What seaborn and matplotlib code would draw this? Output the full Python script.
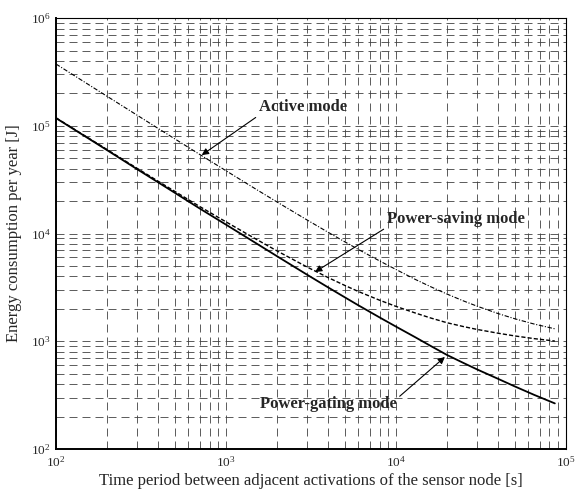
import numpy as np
import pandas as pd
import matplotlib
matplotlib.use("Agg")
import matplotlib.pyplot as plt
import seaborn as sns

# values (log-log axes)
period = [100, 150, 200, 300, 400, 500, 700, 1000, 1500, 2000, 3000, 4000,
          5000, 6000, 8000, 10000, 13000, 16000, 20000, 25000, 30000, 40000,
          50000, 65000, 86000]
active = [374900, 250200, 187900, 125600, 94400, 75700, 54300, 38300, 25830,
          19600, 13370, 10250, 8380, 7130, 5575, 4640, 3750, 3210, 2740, 2366,
          2117, 1805, 1618, 1445, 1305]
saving = [118740, 79740, 60140, 40340, 30540, 24640, 17840, 12840, 8890,
          6890, 4890, 3895, 3300, 2900, 2407, 2108, 1829, 1645, 1485, 1368,
          1288, 1187, 1121, 1058, 1005]
gating = [118000, 79000, 59400, 39600, 29800, 23900, 17100, 12100, 8150,
          6150, 4150, 3155, 2560, 2160, 1667, 1368, 1089, 905, 745, 628,
          548, 447, 381, 318, 265]

sns.set_style("white")
plt.rcParams['font.family'] = ['Liberation Serif', 'DejaVu Serif']
plt.rcParams['mathtext.fontset'] = 'custom'
plt.rcParams['mathtext.rm'] = 'Liberation Serif'
plt.rcParams['mathtext.it'] = 'Liberation Serif:italic'
plt.rcParams['mathtext.bf'] = 'Liberation Serif:bold'

df = pd.DataFrame({"period": period, "active": active,
                   "saving": saving, "gating": gating})

fig = plt.figure(figsize=(5.79, 4.90), dpi=100)
ax = fig.add_axes([0.0967, 0.0837, 0.8808, 0.8793])

sns.lineplot(data=df, x="period", y="active", ax=ax, color="k", lw=0.8,
             linestyle=(0, (4, 1.5, 1, 1.5)))
sns.lineplot(data=df, x="period", y="saving", ax=ax, color="k", lw=1.0,
             linestyle=(0, (3, 1.5)))
sns.lineplot(data=df, x="period", y="gating", ax=ax, color="k", lw=1.3)

ax.set_xscale("log")
ax.set_yscale("log")
ax.set_xlim(1e2, 1e5)
ax.set_ylim(1e2, 1e6)

# dashed grid on major and minor ticks
ax.grid(True, which="both", color="0.25", lw=0.6, linestyle=(0, (9.6, 6)))
ax.tick_params(which="both", direction="in", labelsize=9.5, pad=4)
ax.tick_params(which="major", length=4)
ax.tick_params(which="minor", length=2)
for side in ["left", "bottom"]:
    ax.spines[side].set_linewidth(1.4)
for side in ["top", "right"]:
    ax.spines[side].set_linewidth(0.8)
for s in ax.spines.values():
    s.set_color("k")

ax.set_xlabel("Time period between adjacent activations of the sensor node [s]",
              fontsize=12, labelpad=3)
ax.set_ylabel("Energy consumption per year [J]", fontsize=12, labelpad=6)

arrow = dict(arrowstyle="-|>", color="k", lw=0.8, mutation_scale=10,
             shrinkA=0, shrinkB=0)
ax.annotate("Active mode", xy=(720, 53500), xytext=(2840, 149000),
            fontsize=12, fontweight="bold", ha="center", va="center",
            arrowprops=dict(arrow, relpos=(0, 0)))
ax.annotate("Power-saving mode", xy=(3340, 4400), xytext=(22500, 13600),
            fontsize=12, fontweight="bold", ha="center", va="center",
            arrowprops=dict(arrow, relpos=(0, 0)))
ax.annotate("Power-gating mode", xy=(19400, 715), xytext=(3980, 262),
            fontsize=12, fontweight="bold", ha="center", va="center",
            arrowprops=dict(arrow, relpos=(1, 0.8)))

fig.savefig("out.png", dpi=100)
